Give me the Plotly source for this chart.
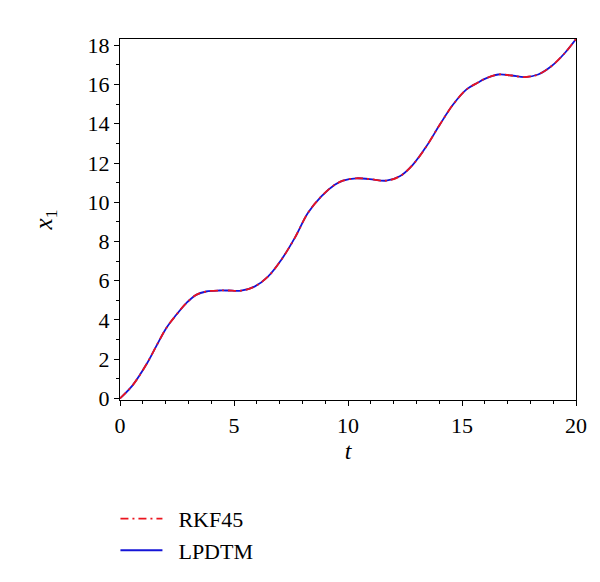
import plotly.graph_objects as go

# Values
t_vals = [0.0, 0.56, 1.14, 1.58, 2.02, 2.46, 2.90, 3.34, 3.78, 4.36, 4.73, 5.31, 5.90,
          6.49, 7.07, 7.66, 8.24, 8.83, 9.42, 9.78, 10.36, 10.95, 11.68, 12.27, 12.85,
          13.44, 14.03, 14.61, 15.20, 15.70, 16.00, 16.59, 17.17, 17.76, 18.34, 18.93,
          19.52, 20.0]
x1_vals = [0.0, 0.68, 1.70, 2.64, 3.57, 4.25, 4.85, 5.28, 5.45, 5.50, 5.50, 5.49, 5.70,
           6.21, 7.06, 8.17, 9.45, 10.30, 10.89, 11.10, 11.22, 11.18, 11.10, 11.32, 11.92,
           12.85, 13.96, 14.98, 15.75, 16.10, 16.29, 16.51, 16.46, 16.38, 16.51, 16.94,
           17.62, 18.32]

x_ticks = [0, 5, 10, 15, 20]
y_ticks = [0, 2, 4, 6, 8, 10, 12, 14, 16, 18]

serif = "Liberation Serif"

fig = go.Figure()
fig.add_trace(go.Scatter(
    x=t_vals, y=x1_vals, mode="lines", name="\u2002LPDTM",
    line=dict(color="rgb(20,20,215)", width=1.8, shape="spline", smoothing=1.0),
    legendrank=2,
))
fig.add_trace(go.Scatter(
    x=t_vals, y=x1_vals, mode="lines", name="\u2002RKF45",
    line=dict(color="rgb(235,20,30)", width=1.8, dash="8px,4px,2px,4px",
              shape="spline", smoothing=1.0),
    legendrank=1,
))

axis_common = dict(
    showgrid=False, zeroline=False, showline=True, linecolor="black", linewidth=1.3,
    mirror=True, ticks="outside", ticklen=5, tickwidth=1.2, tickcolor="black",
    tickfont=dict(family=serif, size=22, color="black"),
)
fig.update_xaxes(
    range=[0, 20], tickvals=x_ticks, ticktext=[str(v) for v in x_ticks],
    minor=dict(ticks="outside", dtick=1, ticklen=3, tickwidth=1, tickcolor="black"),
    title=dict(text="<i>t</i>", font=dict(family=serif, size=24, color="black"), standoff=0),
    **axis_common,
)
fig.update_yaxes(
    range=[-0.08, 18.32], tickvals=y_ticks, ticktext=[str(v) for v in y_ticks],
    minor=dict(ticks="outside", dtick=1, ticklen=3, tickwidth=1, tickcolor="black"),
    title=dict(text="<i>x</i><sub>1</sub>", font=dict(family=serif, size=25, color="black"),
               standoff=27),
    **axis_common,
)
fig.update_layout(
    width=600, height=582,
    margin=dict(l=112, r=32, t=31, b=190),
    paper_bgcolor="white", plot_bgcolor="white",
    showlegend=True,
    legend=dict(x=-0.01, y=-0.271, xanchor="left", yanchor="top",
                font=dict(family=serif, size=22, color="black"),
                bgcolor="rgba(0,0,0,0)", itemwidth=42, tracegroupgap=0),
)
fig.write_html("out.html")
